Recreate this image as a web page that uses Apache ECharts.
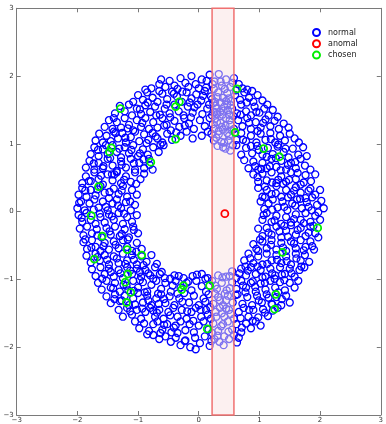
<!DOCTYPE html>
<html>
<head>
<meta charset="utf-8">
<script src="https://cdn.jsdelivr.net/npm/echarts@6/dist/echarts.min.js"></script>
<style>
  html, body { margin: 0; padding: 0; background: #fff; }
  #chart { width: 386px; height: 424px; }
</style>
</head>
<body>
<div id="chart"></div>
<script>
// Axis extent and ticks
const axisMin = -3;
const axisMax = 3;
const tickStep = 1;

// Vertical band (x range)
const bandRange = [0.22, 0.58];

// Normal samples forming the ring
const normalPts = [
  [-0.78,1.82],[-0.65,1.88],[-0.55,1.84],[-0.48,1.93],[-0.40,1.86],[-0.30,1.97],[-0.22,1.90],[-0.12,2.00],[-0.05,1.88],[0.05,1.95],
  [0.12,1.83],[0.18,2.02],[0.26,1.92],[0.33,2.03],[0.38,1.86],[0.45,1.95],[0.52,1.84],[0.58,1.97],[0.66,1.88],[0.72,1.82],
  [-0.35,1.81],[0.00,1.82],[0.80,1.80],[-0.88,1.80],[0.25,1.81],
  [-1.08,1.62],[-1.00,1.72],[-0.92,1.65],[-0.85,1.76],[-0.76,1.68],[-0.68,1.62],[-0.60,1.74],[-0.52,1.66],[-0.44,1.77],[-0.36,1.70],
  [-0.28,1.62],[-0.20,1.76],[-0.12,1.67],[-0.04,1.73],[0.04,1.64],[0.10,1.78],[0.20,1.70],[0.27,1.62],[0.32,1.76],[0.40,1.68],
  [0.47,1.75],[0.53,1.63],[0.60,1.72],[0.68,1.65],[0.75,1.76],[0.83,1.68],[0.90,1.62],[0.97,1.72],[1.05,1.64],[-0.65,1.78],
  [0.36,1.61],[0.22,1.66],[0.45,1.63],[-0.15,1.61],[0.88,1.78],
  [-1.38,1.45],[-1.30,1.56],[-1.22,1.48],[-1.15,1.58],[-1.10,1.42],[-1.02,1.52],[-0.95,1.44],[-0.88,1.57],[-0.80,1.47],[-0.72,1.55],
  [-0.64,1.43],[-0.56,1.52],[-0.48,1.45],[-0.40,1.58],[-0.33,1.48],[-0.25,1.42],[-0.18,1.55],[-0.10,1.46],[-0.02,1.58],[0.06,1.44],
  [0.14,1.52],[0.22,1.42],[0.28,1.56],[0.35,1.47],[0.42,1.55],[0.50,1.43],[0.55,1.52],[0.63,1.45],[0.70,1.58],[0.78,1.48],
  [0.86,1.42],[0.92,1.55],[1.00,1.46],[1.08,1.52],[1.15,1.42],[1.22,1.50],[1.30,1.40],[-0.70,1.42],[0.30,1.44],[0.47,1.58],
  [-1.55,1.25],[-1.48,1.35],[-1.42,1.22],[-1.35,1.32],[-1.28,1.24],[-1.22,1.38],[-1.15,1.28],[-1.08,1.20],[-1.02,1.35],[-0.95,1.25],
  [-0.88,1.38],[-0.82,1.22],[-0.75,1.32],[-0.68,1.24],[-0.60,1.38],[-0.53,1.28],[-0.46,1.20],[-0.40,1.34],[-0.32,1.25],[-0.24,1.38],
  [-0.16,1.30],[-0.08,1.22],[0.02,1.35],[0.10,1.26],[0.18,1.38],[0.25,1.22],[0.30,1.32],[0.38,1.25],[0.45,1.38],[0.52,1.28],
  [0.58,1.22],[0.65,1.35],[0.72,1.26],[0.80,1.38],[0.86,1.22],[0.94,1.32],[1.02,1.24],[1.10,1.36],[1.18,1.26],[1.25,1.34],
  [1.32,1.22],[1.40,1.30],[1.48,1.24],[-1.40,1.38],[0.40,1.21],
  [-1.70,1.05],[-1.64,1.15],[-1.58,1.02],[-1.52,1.12],[-1.45,1.04],[-1.40,1.18],[-1.33,1.08],[-1.26,1.16],[-1.20,1.02],[-1.12,1.10],
  [-1.05,1.18],[-0.98,1.04],[-0.90,1.14],[-0.83,1.06],[-0.76,1.16],[-0.68,1.08],[-0.60,1.02],[-0.52,1.15],[-0.44,1.06],[-0.30,1.12],
  [-0.20,1.18],[-0.10,1.08],[0.05,1.12],[0.15,1.18],[0.25,1.05],[0.33,1.14],[0.42,1.02],[0.50,1.12],[0.62,1.06],[0.70,1.16],
  [0.78,1.04],[0.86,1.12],[0.95,1.02],[1.02,1.15],[1.10,1.06],[1.18,1.16],[1.26,1.02],[1.34,1.12],[1.42,1.05],[1.50,1.15],
  [1.58,1.08],[1.65,1.02],
  [-1.78,0.85],[-1.72,0.95],[-1.65,0.82],[-1.58,0.92],[-1.50,0.85],[-1.42,0.98],[-1.35,0.88],[-1.28,0.80],[-1.22,0.95],[-1.15,0.86],
  [-1.08,0.98],[-1.00,0.82],[-0.92,0.92],[-0.84,0.84],[-0.75,0.95],[-0.66,0.88],[-0.58,0.98],[0.40,0.95],[0.52,0.90],[0.62,0.98],
  [0.70,0.84],[0.78,0.94],[0.88,0.86],[0.96,0.97],[1.05,0.84],[1.14,0.94],[1.22,0.85],[1.30,0.96],[1.40,0.88],[1.48,0.80],
  [1.55,0.93],[1.64,0.84],[1.72,0.95],[1.78,0.82],
  [-1.86,0.65],[-1.80,0.75],[-1.72,0.62],[-1.65,0.72],[-1.58,0.64],[-1.50,0.78],[-1.42,0.68],[-1.35,0.60],[-1.28,0.74],[-1.20,0.65],
  [-1.12,0.78],[-1.05,0.62],[-0.98,0.72],[-0.90,0.64],[-0.82,0.78],[-0.76,0.62],[0.75,0.76],[0.82,0.64],[0.90,0.74],[0.98,0.62],
  [1.05,0.72],[1.12,0.64],[1.20,0.78],[1.28,0.66],[1.36,0.75],[1.44,0.62],[1.52,0.72],[1.60,0.64],[1.68,0.78],[1.75,0.68],[1.84,0.62],
  [-1.92,0.42],[-1.86,0.52],[-1.78,0.45],[-1.72,0.58],[-1.65,0.48],[-1.58,0.40],[-1.50,0.55],[-1.42,0.46],[-1.35,0.58],[-1.28,0.42],
  [-1.20,0.52],[-1.12,0.44],[-1.05,0.58],[-0.96,0.48],[-0.90,0.56],[0.90,0.55],[0.98,0.44],[1.05,0.56],[1.12,0.46],[1.20,0.58],
  [1.28,0.42],[1.36,0.52],[1.44,0.44],[1.52,0.58],[1.60,0.48],[1.68,0.40],[1.76,0.54],[1.85,0.45],[1.92,0.55],
  [-1.98,0.25],[-1.92,0.35],[-1.85,0.22],[-1.78,0.32],[-1.70,0.24],[-1.62,0.38],[-1.55,0.28],[-1.48,0.20],[-1.40,0.34],[-1.32,0.26],
  [-1.25,0.38],[-1.18,0.22],[-1.10,0.32],[-1.02,0.25],[0.98,0.35],[1.05,0.22],[1.12,0.32],[1.20,0.26],[1.28,0.38],[1.36,0.22],
  [1.44,0.32],[1.52,0.25],[1.60,0.36],[1.68,0.28],[1.76,0.20],[1.84,0.34],[1.92,0.25],[2.00,0.32],
  [-2.00,0.05],[-1.94,0.15],[-1.88,0.02],[-1.80,0.12],[-1.72,0.18],[-1.65,0.06],[-1.58,0.15],[-1.50,0.02],[-1.42,0.12],[-1.35,0.18],
  [-1.28,0.05],[-1.20,0.14],[-1.12,0.02],[-1.05,0.10],[1.02,0.15],[1.08,0.04],[1.15,0.12],[1.22,0.18],[1.30,0.06],[1.38,0.15],
  [1.46,0.02],[1.54,0.12],[1.62,0.18],[1.70,0.05],[1.78,0.14],[1.86,0.02],[1.95,0.10],[2.02,0.16],
  [-1.98,-0.05],[-1.92,-0.15],[-1.85,-0.02],[-1.78,-0.12],[-1.70,-0.18],[-1.62,-0.08],[-1.55,-0.16],[-1.48,-0.04],[-1.40,-0.12],[-1.32,-0.02],
  [-1.25,-0.18],[-1.18,-0.08],[-1.10,-0.15],[-1.02,-0.05],[1.05,-0.12],[1.12,-0.02],[1.20,-0.15],[1.28,-0.06],[1.36,-0.18],[1.44,-0.08],
  [1.52,-0.16],[1.60,-0.04],[1.68,-0.12],[1.76,-0.02],[1.84,-0.15],[1.92,-0.06],[2.00,-0.12],
  [-1.96,-0.25],[-1.90,-0.35],[-1.84,-0.22],[-1.76,-0.32],[-1.68,-0.26],[-1.60,-0.38],[-1.52,-0.24],[-1.45,-0.34],[-1.38,-0.22],[-1.30,-0.36],
  [-1.22,-0.26],[-1.15,-0.38],[-1.08,-0.22],[-1.00,-0.32],[0.98,-0.25],[1.05,-0.36],[1.12,-0.24],[1.20,-0.34],[1.28,-0.22],[1.36,-0.38],
  [1.44,-0.28],[1.52,-0.20],[1.60,-0.34],[1.68,-0.24],[1.76,-0.36],[1.84,-0.22],[1.92,-0.32],
  [-1.90,-0.45],[-1.84,-0.55],[-1.76,-0.42],[-1.70,-0.52],[-1.62,-0.58],[-1.55,-0.46],[-1.48,-0.56],[-1.40,-0.44],[-1.32,-0.54],[-1.25,-0.42],
  [-1.18,-0.52],[-1.10,-0.58],[-1.02,-0.46],[-0.94,-0.55],[0.90,-0.48],[0.98,-0.58],[1.05,-0.44],[1.12,-0.54],[1.20,-0.42],[1.28,-0.56],
  [1.36,-0.46],[1.44,-0.58],[1.52,-0.44],[1.60,-0.54],[1.68,-0.42],[1.76,-0.52],[1.84,-0.44],[1.90,-0.56],
  [-1.85,-0.65],[-1.78,-0.75],[-1.70,-0.62],[-1.63,-0.72],[-1.55,-0.64],[-1.48,-0.78],[-1.40,-0.66],[-1.32,-0.76],[-1.25,-0.62],[-1.18,-0.72],
  [-1.10,-0.64],[-1.02,-0.78],[-0.94,-0.66],[-0.86,-0.74],[-0.78,-0.64],[0.75,-0.72],[0.82,-0.62],[0.90,-0.76],[0.98,-0.66],[1.05,-0.78],
  [1.12,-0.62],[1.20,-0.72],[1.28,-0.64],[1.36,-0.76],[1.44,-0.66],[1.52,-0.78],[1.60,-0.62],[1.68,-0.72],[1.75,-0.64],[1.82,-0.74],
  [-1.76,-0.85],[-1.70,-0.95],[-1.62,-0.82],[-1.55,-0.92],[-1.48,-0.84],[-1.40,-0.96],[-1.32,-0.86],[-1.25,-0.98],[-1.18,-0.82],[-1.10,-0.92],
  [-1.02,-0.84],[-0.95,-0.96],[-0.88,-0.86],[-0.80,-0.94],[-0.72,-0.82],[-0.64,-0.92],[-0.56,-0.98],[0.45,-0.96],[0.55,-0.88],[0.62,-0.98],
  [0.70,-0.84],[0.78,-0.94],[0.86,-0.82],[0.94,-0.92],[1.02,-0.86],[1.10,-0.96],[1.18,-0.84],[1.26,-0.94],[1.34,-0.82],[1.42,-0.92],
  [1.50,-0.84],[1.58,-0.96],[1.66,-0.86],[1.74,-0.82],
  [-0.10,-0.95],[0.05,-0.92],[0.15,-0.98],[0.32,-0.94],[-0.25,-0.98],[-0.40,-0.94],
  [-1.66,-1.05],[-1.60,-1.15],[-1.52,-1.02],[-1.45,-1.12],[-1.38,-1.05],[-1.30,-1.18],[-1.24,-1.08],[-1.16,-1.16],[-1.08,-1.02],[-1.00,-1.12],
  [-0.92,-1.04],[-0.85,-1.18],[-0.78,-1.08],[-0.70,-1.02],[-0.62,-1.14],[-0.55,-1.05],[-0.46,-1.18],[-0.38,-1.02],[-0.30,-1.12],[-0.20,-1.05],
  [-0.12,-1.16],[-0.04,-1.02],[0.05,-1.10],[0.12,-1.18],[0.22,-1.02],[0.30,-1.14],[0.38,-1.05],[0.46,-1.16],[0.55,-1.04],[0.62,-1.14],
  [0.70,-1.02],[0.78,-1.12],[0.86,-1.05],[0.94,-1.18],[1.02,-1.06],[1.10,-1.15],[1.18,-1.02],[1.26,-1.12],[1.34,-1.04],[1.42,-1.16],
  [1.50,-1.05],[1.58,-1.12],[1.64,-1.02],
  [-1.52,-1.25],[-1.45,-1.35],[-1.38,-1.22],[-1.30,-1.32],[-1.22,-1.24],[-1.15,-1.38],[-1.08,-1.28],[-1.00,-1.20],[-0.92,-1.34],[-0.85,-1.24],
  [-0.78,-1.38],[-0.70,-1.28],[-0.62,-1.22],[-0.55,-1.35],[-0.48,-1.25],[-0.40,-1.38],[-0.32,-1.28],[-0.24,-1.20],[-0.16,-1.34],[-0.08,-1.24],
  [0.00,-1.38],[0.08,-1.28],[0.16,-1.22],[0.24,-1.36],[0.32,-1.26],[0.40,-1.38],[0.48,-1.24],[0.56,-1.34],[0.64,-1.22],[0.72,-1.36],
  [0.80,-1.26],[0.88,-1.38],[0.96,-1.24],[1.04,-1.34],[1.12,-1.22],[1.20,-1.36],[1.28,-1.26],[1.36,-1.38],[1.44,-1.24],[1.50,-1.34],
  [-0.66,-1.36],[0.45,-1.31],
  [-1.32,-1.45],[-1.25,-1.55],[-1.18,-1.42],[-1.10,-1.52],[-1.02,-1.45],[-0.95,-1.58],[-0.88,-1.48],[-0.80,-1.42],[-0.72,-1.55],[-0.65,-1.45],
  [-0.58,-1.58],[-0.50,-1.48],[-0.42,-1.42],[-0.35,-1.55],[-0.28,-1.45],[-0.20,-1.58],[-0.12,-1.48],[-0.05,-1.42],[0.04,-1.55],[0.12,-1.45],
  [0.20,-1.58],[0.28,-1.48],[0.35,-1.42],[0.42,-1.55],[0.50,-1.45],[0.58,-1.58],[0.66,-1.48],[0.74,-1.42],[0.82,-1.55],[0.90,-1.45],
  [0.98,-1.56],[1.06,-1.44],[1.14,-1.54],[1.22,-1.46],[1.30,-1.42],[-0.75,-1.46],[0.38,-1.50],[0.15,-1.52],
  [-1.05,-1.62],[-0.98,-1.72],[-0.90,-1.65],[-0.82,-1.76],[-0.75,-1.66],[-0.68,-1.62],[-0.60,-1.74],[-0.52,-1.66],[-0.45,-1.78],[-0.38,-1.68],
  [-0.30,-1.62],[-0.22,-1.75],[-0.15,-1.66],[-0.08,-1.78],[0.00,-1.68],[0.08,-1.62],[0.16,-1.74],[0.24,-1.65],[0.32,-1.76],[0.40,-1.66],
  [0.48,-1.62],[0.55,-1.74],[0.62,-1.66],[0.70,-1.78],[0.78,-1.65],[0.86,-1.72],[0.94,-1.62],[1.02,-1.68],[-0.35,-1.79],[0.22,-1.79],
  [-0.75,-1.82],[-0.65,-1.88],[-0.55,-1.84],[-0.46,-1.92],[-0.38,-1.86],[-0.30,-1.97],[-0.22,-1.90],[-0.14,-2.00],[-0.06,-1.86],[0.02,-1.94],
  [0.10,-1.84],[0.18,-1.98],[0.26,-1.88],[0.34,-1.92],[0.42,-1.84],[0.50,-1.88],[0.58,-1.82],[0.66,-1.86],[-0.85,-1.81],[-0.05,-2.03],
  // denser clumps across the ring
  [-0.62,1.95],[-0.41,1.74],[-0.17,1.84],[0.07,1.71],[0.23,1.88],[0.31,1.69],[0.43,1.81],[0.49,1.67],[0.36,1.92],[0.56,1.90],
  [0.29,1.52],[0.41,1.49],[0.53,1.57],[0.24,1.60],[0.61,1.79],[0.13,1.93],[-0.27,1.77],[-0.53,1.58],[-0.84,1.61],[-0.97,1.51],
  [0.79,1.61],[0.95,1.47],[1.13,1.58],[-0.07,1.54],[0.17,1.58],
  [0.27,1.37],[0.36,1.31],[0.44,1.27],[0.51,1.35],[0.33,1.19],[0.47,1.16],[0.54,1.20],[0.29,1.09],[0.37,1.03],[0.49,1.05],
  [0.56,0.98],[0.31,0.97],[0.44,0.93],[0.23,1.29],[0.21,1.15],[0.57,1.41],[0.39,1.43],[0.26,1.47],[0.48,1.50],
  [-1.37,1.16],[-1.21,1.09],[-1.11,0.91],[-1.31,0.93],[-1.46,0.79],[-1.27,0.69],[-1.07,0.71],[-0.97,0.86],[-0.86,1.01],[-0.71,1.11],
  [-0.57,1.27],[-0.47,1.39],[-1.17,1.23],[-0.93,1.31],[-1.53,0.98],[-1.66,0.91],[-0.81,0.69],[-0.91,0.77],[-1.39,0.55],[-1.57,0.67],
  [-1.73,0.71],[-0.63,0.99],[-0.37,1.17],[-0.23,1.27],[-0.13,1.39],
  [0.69,1.43],[0.83,1.31],[0.97,1.19],[1.06,1.31],[1.19,1.07],[1.31,0.99],[1.43,0.93],[1.27,0.79],[1.12,0.81],[0.99,0.91],
  [0.86,0.97],[0.73,1.06],[1.59,0.73],[1.47,0.69],[1.35,0.61],[1.17,0.67],[1.03,0.63],[0.93,0.67],[1.63,0.57],[1.49,0.47],
  [1.31,0.47],[1.09,0.37],[0.97,0.51],[1.73,0.43],[1.81,0.31],[1.57,0.31],[1.39,0.41],[1.21,0.43],
  [-1.87,0.31],[-1.67,0.33],[-1.47,0.29],[-1.27,0.31],[-1.13,0.15],[-1.33,0.09],[-1.53,0.07],[-1.73,0.03],[-1.93,-0.09],[-1.63,-0.03],
  [-1.43,-0.07],[-1.23,-0.03],[-1.07,-0.27],[-1.27,-0.33],[-1.47,-0.29],[-1.67,-0.35],[-1.87,-0.41],[-1.77,-0.53],[-1.57,-0.51],[-1.37,-0.49],
  [-1.17,-0.41],[-1.03,-0.59],[-1.81,0.45],[-1.61,0.53],[-1.43,0.55],[-1.23,0.47],[-1.03,0.41],[-1.97,0.13],
  [1.09,0.21],[1.27,0.27],[1.47,0.21],[1.67,0.19],[1.87,0.21],[2.06,0.05],[1.97,-0.01],[1.81,0.07],[1.59,0.09],[1.41,0.07],
  [1.21,0.03],[1.07,-0.05],[1.25,-0.13],[1.41,-0.21],[1.57,-0.11],[1.73,-0.17],[1.89,-0.21],[1.97,-0.38],[1.81,-0.31],[1.63,-0.27],
  [1.47,-0.37],[1.33,-0.29],[1.15,-0.31],[1.01,-0.41],[1.19,-0.49],[1.39,-0.53],[1.57,-0.47],[1.73,-0.57],[1.87,-0.51],
  [-1.67,-0.67],[-1.51,-0.71],[-1.35,-0.69],[-1.21,-0.77],[-1.07,-0.71],[-0.91,-0.79],[-0.83,-0.91],[-0.97,-0.89],[-1.13,-0.87],[-1.29,-0.91],
  [-1.45,-0.89],[-1.59,-0.99],[-1.41,-1.13],[-1.19,-1.09],[-0.97,-1.01],[-0.75,-0.99],[-0.67,-1.21],[-0.89,-1.19],[-1.07,-1.17],[-1.27,-1.31],
  [-1.05,-1.37],[-0.83,-1.31],[-0.57,-1.29],[-0.43,-1.09],[-0.35,-1.21],[-1.39,-1.29],[-0.93,-1.43],[-0.69,-1.49],[-0.47,-1.53],[-1.13,-1.47],
  [-0.61,-0.89],[-0.69,-0.77],
  [-0.27,-1.33],[-0.19,-1.47],[-0.09,-1.61],[0.03,-1.45],[0.11,-1.33],[0.19,-1.41],[0.27,-1.21],[0.35,-1.31],[0.43,-1.21],[0.51,-1.13],
  [0.29,-1.55],[0.37,-1.69],[0.45,-1.43],[0.53,-1.51],[0.21,-1.91],[0.31,-1.83],[0.41,-1.97],[0.49,-1.77],[0.27,-1.09],[0.39,-0.97],
  [0.51,-0.95],[-0.17,-1.03],[-0.33,-0.95],[-0.47,-0.99],[0.11,-0.99],[-0.03,-0.93],[-0.23,-1.91],[-0.41,-1.71],[-0.57,-1.67],[-0.63,-1.79],
  [0.63,-1.93],[0.71,-1.71],
  [0.67,-0.91],[0.81,-0.87],[0.97,-0.81],[1.13,-0.77],[1.29,-0.71],[1.45,-0.73],[1.61,-0.69],[1.69,-0.81],[1.53,-0.91],[1.37,-0.93],
  [1.21,-0.91],[1.05,-0.97],[0.89,-1.03],[0.73,-1.09],[0.61,-1.23],[0.77,-1.19],[0.93,-1.11],[1.09,-1.05],[1.25,-0.99],[1.41,-1.01],
  [1.31,-1.19],[1.15,-1.27],[0.99,-1.31],[0.83,-1.45],[0.69,-1.57],[0.89,-1.61],[1.09,-1.49],[1.21,-1.37],[1.37,-1.29],[0.77,-0.81],
  [0.85,-0.69],[0.95,-0.55]
];

// The single anomalous sample
const anomalPts = [[0.43, -0.03]];

// Samples picked out as chosen
const chosenPts = [
  [-1.29,1.52],[-0.32,1.62],[-0.38,1.55],[-0.38,1.07],[-1.44,0.94],[-1.47,0.88],[-0.79,0.73],[-1.65,0.37],
  [0.63,1.81],[0.60,1.17],[1.07,0.93],[1.33,0.81],
  [-1.77,-0.06],[-1.59,-0.36],[-1.72,-0.70],[-1.18,-0.56],[-0.94,-0.64],[-1.17,-0.92],[-1.21,-1.04],[-1.12,-1.19],[-1.19,-1.34],
  [-0.25,-1.09],[-0.28,-1.15],
  [1.96,-0.24],[1.38,-0.60],[0.18,-1.09],[1.27,-1.22],[1.25,-1.44],[0.14,-1.73]
];

const fmt = v => (v < 0 ? '\u2212' + Math.abs(v) : String(v));
const frameColor = '#7a7a7a';
const labelFont = { fontSize: 7, color: '#333', fontFamily: 'DejaVu Sans' };

function makeAxis(pos, showLabel) {
  return {
    type: 'value', position: pos, min: axisMin, max: axisMax, interval: tickStep,
    axisLine: { show: true, onZero: false, lineStyle: { color: frameColor, width: 1 } },
    axisTick: { show: true, inside: true, length: 4, lineStyle: { color: frameColor } },
    axisLabel: Object.assign({ show: showLabel, margin: 2, formatter: fmt }, labelFont),
    splitLine: { show: false }
  };
}

const chart = echarts.init(document.getElementById('chart'), null, { renderer: 'canvas' });
chart.setOption({
  animation: false,
  backgroundColor: '#fff',
  grid: { left: 16.7, right: 1.4, top: 8.3, bottom: 8.5, containLabel: false },
  xAxis: [makeAxis('bottom', true), makeAxis('top', false)],
  yAxis: [
    Object.assign(makeAxis('left', true), { axisLabel: Object.assign({ show: true, margin: 3, formatter: fmt }, labelFont) }),
    makeAxis('right', false)
  ],
  legend: {
    orient: 'vertical', left: 307, top: 23,
    itemWidth: 7, itemHeight: 7, itemGap: 2.3,
    textStyle: { fontSize: 8, lineHeight: 8, color: '#222', fontFamily: 'DejaVu Sans', padding: [0, 0, 0, 3] },
    data: ['normal', 'anomal', 'chosen']
  },
  series: [
    {
      name: 'normal', type: 'scatter', z: 2, data: normalPts,
      symbol: 'circle', symbolSize: 7,
      itemStyle: { color: 'rgba(0,0,0,0)', borderColor: '#0000ff', borderWidth: 1.3, opacity: 1 }
    },
    {
      // translucent band laid over the normal samples
      name: 'band', type: 'scatter', z: 3, data: [],
      markArea: {
        z: 3,
        silent: true,
        itemStyle: { color: 'rgba(250,226,226,0.5)', borderColor: '#f07070', borderWidth: 1.5 },
        data: [[{ xAxis: bandRange[0], yAxis: axisMin }, { xAxis: bandRange[1], yAxis: axisMax }]]
      }
    },
    {
      name: 'anomal', type: 'scatter', z: 4, data: anomalPts,
      symbol: 'circle', symbolSize: 7,
      itemStyle: { color: 'rgba(0,0,0,0)', borderColor: '#ff0000', borderWidth: 1.8, opacity: 1 }
    },
    {
      name: 'chosen', type: 'scatter', z: 5, data: chosenPts,
      symbol: 'circle', symbolSize: 7,
      itemStyle: { color: 'rgba(0,0,0,0)', borderColor: '#00ee00', borderWidth: 1.8, opacity: 1 }
    }
  ]
});
</script>
</body>
</html>
